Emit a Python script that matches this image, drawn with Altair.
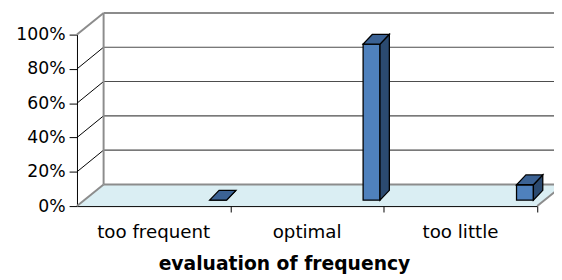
import altair as alt
import pandas as pd

# ---- data ----
categories = ["too frequent", "optimal", "too little"]
values = [0.0, 0.91, 0.09]
y_tick_values = [0, 0.2, 0.4, 0.6, 0.8, 1.0]
x_title = "evaluation of frequency"

# ---- geometry / style constants ----
W, H = 467, 174
NCAT = len(categories)
DXU = 27 / W * NCAT      # depth of floor/walls in x data units
DYU = 22 / H             # depth of floor/walls in y data units
BX0, BX1 = 0.82, 0.93    # bar front face inside each category band
BDX = 9.5 / W * NCAT     # bar depth (x)
BDY = 10 / H             # bar depth (y)
OFFX, OFFY = 7, -6       # bar pushed back into the depth
FONT = "DejaVu Sans"
FRONT = "#4F81BD"
SIDE = "#2B4A70"
TOP = "#3B6294"
FLOOR = "#DAEEF3"
EDGE = "#8C8C8C"
GRID = "#4D4D4D"

xs = alt.Scale(domain=[0, NCAT], nice=False, zero=False)
ys = alt.Scale(domain=[0, 1], nice=False, zero=False)

x_axis = alt.Axis(
    values=[1, 2, 3], labels=False, grid=False, tickSize=6, tickColor="black",
    domainColor="black", domainWidth=1, title=x_title, titleFont=FONT,
    titleFontSize=19, titleFontWeight="bold", titleColor="black",
    titleX=210, titleY=58, titleBaseline="middle", titleAlign="center")
y_axis = alt.Axis(
    values=y_tick_values, format=".0%", grid=False, tickSize=8, tickColor="black",
    domainColor="black", domainWidth=1, labelFont=FONT, labelFontSize=17.5,
    labelColor="black", labelPadding=4, title=None)


def X(field):
    return alt.X(field, scale=xs, axis=x_axis)


def Y(field):
    return alt.Y(field, scale=ys, axis=y_axis)


# ---- tables built from the arrays ----
bars = pd.DataFrame({"cat": categories, "v": values})
bars["i"] = range(NCAT)
bars["x0"] = bars["i"] + BX0
bars["x1"] = bars["i"] + BX1
bars["zero"] = 0.0

side_rows, top_rows = [], []
for c, v, x0, x1 in zip(bars["cat"], bars["v"], bars["x0"], bars["x1"]):
    side_rows.append({"cat": c, "x": x1, "y": v, "y2": 0.0})
    side_rows.append({"cat": c, "x": x1 + BDX, "y": v + BDY, "y2": BDY})
    top_rows.append({"cat": c, "y": v, "x": x0, "x2": x1})
    top_rows.append({"cat": c, "y": v + BDY, "x": x0 + BDX, "x2": x1 + BDX})
side_df = pd.DataFrame(side_rows)
top_df = pd.DataFrame(top_rows)

labels_df = pd.DataFrame({"cat": categories, "xc": [i + 0.5 for i in range(NCAT)]})

floor_df = pd.DataFrame({"y": [0, DYU], "x": [0, DXU], "x2": [NCAT, NCAT + DXU]})

inner = [t for t in y_tick_values if 0 < t < 1]
back_grid = pd.DataFrame({"y": [t + DYU for t in inner], "x": DXU, "x2": NCAT + DXU})
diag_thin = pd.DataFrame({"x": 0.0, "y": inner, "x2": DXU, "y2": [t + DYU for t in inner]})
edges = pd.DataFrame({
    "x":  [DXU, DXU, DXU, 0.0, 0.0, NCAT],
    "y":  [1 + DYU, DYU, DYU, 1.0, 0.0, 0.0],
    "x2": [NCAT + DXU, NCAT + DXU, DXU, DXU, DXU, NCAT + DXU],
    "y2": [1 + DYU, DYU, 1 + DYU, 1 + DYU, DYU, DYU],
})

# ---- layers ----
floor = alt.Chart(floor_df).mark_area(orient="horizontal", fill=FLOOR).encode(
    y=Y("y:Q"), x=X("x:Q"), x2="x2:Q",
)

grid = alt.Chart(back_grid).mark_rule(color=GRID, strokeWidth=1.2).encode(
    x=X("x:Q"), x2="x2:Q", y=Y("y:Q"),
)

diag = alt.Chart(diag_thin).mark_rule(color="#000000", strokeWidth=1).encode(
    x=X("x:Q"), x2="x2:Q", y=Y("y:Q"), y2="y2:Q",
)

edge = alt.Chart(edges).mark_rule(color=EDGE, strokeWidth=2).encode(
    x=X("x:Q"), x2="x2:Q", y=Y("y:Q"), y2="y2:Q",
)

cat_labels = alt.Chart(labels_df).mark_text(font=FONT, fontSize=18.5, color="black",
                                            baseline="middle").encode(
    x=X("xc:Q"),
    y=alt.value(H + 26),
    text="cat:N",
)

off = dict(xOffset=OFFX, x2Offset=OFFX, yOffset=OFFY, y2Offset=OFFY)

front = alt.Chart(bars).mark_rect(fill=FRONT, stroke="black", strokeWidth=1.3, **off).encode(
    x=X("x0:Q"), x2="x1:Q", y=Y("v:Q"), y2="zero:Q",
)

side = alt.Chart(side_df).mark_area(fill=SIDE, stroke="black", strokeWidth=1.3,
                                    strokeJoin="miter", **off).encode(
    x=X("x:Q"), y=Y("y:Q"), y2="y2:Q", detail="cat:N",
)

top = alt.Chart(top_df).mark_area(orient="horizontal", fill=TOP, stroke="black",
                                  strokeWidth=1.3, strokeJoin="miter", **off).encode(
    y=Y("y:Q"), x=X("x:Q"), x2="x2:Q", detail="cat:N",
)

chart = alt.layer(floor, grid, diag, edge, cat_labels, front, side, top).properties(
    width=W, height=H,
    autosize=alt.AutoSizeParams(type="none"),
    padding={"left": 70, "top": 25, "right": 17, "bottom": 73},
    background="white",
).configure_view(stroke=None)

chart.save("out.html", embed_options={"renderer": "svg", "actions": False})
